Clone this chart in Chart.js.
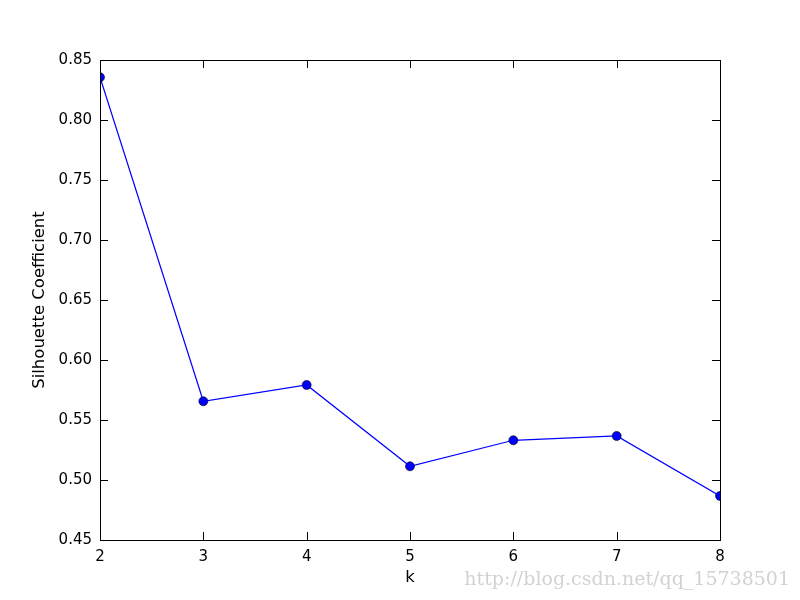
<!DOCTYPE html>
<html>
<head>
<meta charset="utf-8">
<script src="https://cdn.jsdelivr.net/npm/chart.js@4"></script>
<style>
html,body{margin:0;padding:0;background:#fff;}
#wrap{width:800px;height:600px;position:relative;}
</style>
</head>
<body>
<div id="wrap"><canvas id="c" width="800" height="600"></canvas></div>
<script>
const kValues = [2, 3, 4, 5, 6, 7, 8];
const silhouette = [0.8356, 0.5656, 0.5792, 0.5114, 0.5331, 0.5367, 0.4867];
const xTicks = [2, 3, 4, 5, 6, 7, 8];
const yTicks = [0.45, 0.50, 0.55, 0.60, 0.65, 0.70, 0.75, 0.80, 0.85];
const xTitle = 'k';
const yTitle = 'Silhouette Coefficient';
const watermark = 'http://blog.csdn.net/qq_15738501';

const FONT = "'DejaVu Sans', sans-serif";

const frameTicks = {
  id: 'frameTicks',
  afterDatasetsDraw(chart) {
    const ctx = chart.ctx, a = chart.chartArea;
    const xs = chart.scales.x, ys = chart.scales.y;
    ctx.save();
    ctx.strokeStyle = '#000';
    ctx.lineWidth = 1;
    ctx.beginPath();
    xTicks.forEach(v => {
      const p = Math.round(xs.getPixelForValue(v)) + 0.5;
      ctx.moveTo(p, a.bottom); ctx.lineTo(p, a.bottom - 8);
      ctx.moveTo(p, a.top); ctx.lineTo(p, a.top + 8);
    });
    yTicks.forEach(v => {
      const p = Math.round(ys.getPixelForValue(v)) + 0.5;
      ctx.moveTo(a.left, p); ctx.lineTo(a.left + 8, p);
      ctx.moveTo(a.right, p); ctx.lineTo(a.right - 8, p);
    });
    ctx.stroke();
    ctx.strokeRect(Math.round(a.left) + 0.5, Math.round(a.top) + 0.5,
                   Math.round(a.right - a.left), Math.round(a.bottom - a.top));
    ctx.restore();
  },
  afterDraw(chart) {
    const ctx = chart.ctx;
    ctx.save();
    ctx.fillStyle = 'rgba(205,205,205,0.9)';
    ctx.font = "19px 'DejaVu Serif', 'Liberation Serif', serif";
    ctx.textAlign = 'right';
    ctx.textBaseline = 'middle';
    ctx.fillText(watermark, 790, 580);
    ctx.restore();
  }
};

new Chart(document.getElementById('c'), {
  type: 'line',
  data: {
    datasets: [{
      data: kValues.map((k, i) => ({x: k, y: silhouette[i]})),
      borderColor: '#0000ff',
      borderWidth: 1.2,
      backgroundColor: '#0000ff',
      pointBackgroundColor: '#0000ff',
      pointBorderColor: '#000000',
      pointBorderWidth: 0.6,
      pointRadius: 4.5,
      tension: 0,
      fill: false,
      clip: 0
    }]
  },
  options: {
    responsive: false,
    animation: false,
    devicePixelRatio: 1,
    layout: {padding: {top: 60, right: 80, left: 0, bottom: 0}},
    plugins: {legend: {display: false}, tooltip: {enabled: false}},
    scales: {
      x: {
        type: 'linear',
        min: 2, max: 8,
        afterFit(s) { s.height = 60; },
        afterBuildTicks(s) { s.ticks = xTicks.map(v => ({value: v})); },
        grid: {display: false, drawTicks: false},
        border: {display: false},
        ticks: {color: '#000', font: {family: FONT, size: 15}, padding: 8, maxRotation: 0,
                callback: v => String(v)},
        title: {display: true, text: xTitle, color: '#000', font: {family: FONT, size: 16.5}, padding: {top: 2, bottom: 12}}
      },
      y: {
        min: 0.45, max: 0.85,
        afterFit(s) { s.width = 100; },
        afterBuildTicks(s) { s.ticks = yTicks.map(v => ({value: v})); },
        grid: {display: false, drawTicks: false},
        border: {display: false},
        ticks: {color: '#000', font: {family: FONT, size: 15}, padding: 8,
                callback: v => Number(v).toFixed(2)},
        title: {display: true, text: yTitle, color: '#000', font: {family: FONT, size: 16.5}, padding: {top: 30, bottom: 10}}
      }
    }
  },
  plugins: [frameTicks]
});
</script>
</body>
</html>
